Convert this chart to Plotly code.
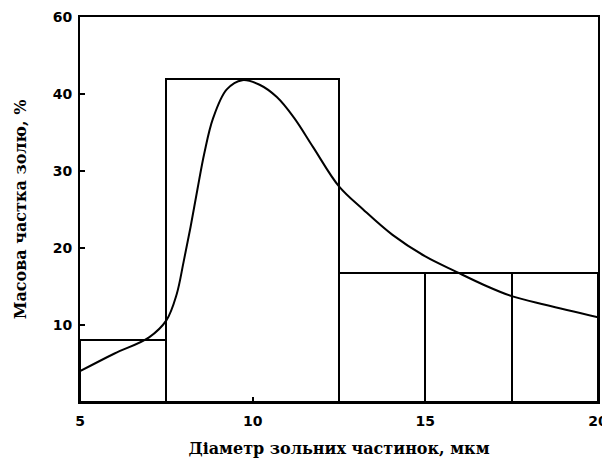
import plotly.graph_objects as go

# Histogram bins (diameter, µm) and mass fraction (%)
bin_left = [5, 7.5, 12.5, 15, 17.5]
bin_right = [7.5, 12.5, 15, 17.5, 20]
bin_mass = [8, 42, 16.7, 16.7, 16.7]

# Smooth distribution curve
curve_x = [5, 6, 7, 7.5, 7.8, 8.0, 8.2, 8.4, 8.6, 8.85, 9.25, 9.7, 10.2, 10.7,
           11.2, 11.75, 12.5, 13.2, 14.05, 15.0, 15.9, 16.7, 17.5, 18.5, 20]
curve_y = [4.0, 6.3, 8.4, 10.6, 14.0, 18.2, 22.7, 27.6, 32.3, 36.8, 40.6, 41.8,
           41.2, 39.6, 36.9, 33.1, 28.0, 25.0, 21.7, 18.9, 16.9, 15.2,
           13.75, 12.6, 11.0]

# Axis ticks
x_tickvals = [5, 10, 15, 20]
x_ticktext = ["5", "10", "15", "20"]
y_tickvals = [10, 20, 30, 40, 50]
y_ticktext = ["10", "20", "30", "40", "60"]

x_title = "Діаметр зольних частинок, мкм"
y_title = "Масова частка золю, %"

centers = [(a + b) / 2 for a, b in zip(bin_left, bin_right)]
widths = [b - a for a, b in zip(bin_left, bin_right)]

fig = go.Figure()
fig.add_trace(go.Bar(
    x=centers, y=bin_mass, width=widths,
    marker=dict(color="white", line=dict(color="black", width=2)),
    showlegend=False, hoverinfo="skip",
))
fig.add_trace(go.Scatter(
    x=curve_x, y=curve_y, mode="lines",
    line=dict(color="black", width=2, shape="spline", smoothing=1.0),
    showlegend=False,
))

tick_font = dict(family="DejaVu Sans", size=14, color="black", weight="bold")
title_font = dict(family="DejaVu Serif", size=16, color="black", weight="bold")

# The page body has an 8px default margin; size keeps the page from overflowing.
fig.update_layout(
    width=602, height=450,
    margin=dict(l=72, r=12, t=9, b=56),
    paper_bgcolor="white", plot_bgcolor="white",
    bargap=0,
    xaxis=dict(
        range=[5, 20], tickvals=x_tickvals, ticktext=x_ticktext,
        ticks="inside", ticklen=5, tickwidth=2, tickcolor="black",
        showline=True, linecolor="black", linewidth=2, mirror=True,
        showgrid=False, zeroline=False, automargin=False,
        tickfont=tick_font, ticklabelstandoff=5, ticklabeloverflow="allow",
        title=dict(text=x_title, font=title_font, standoff=18),
    ),
    yaxis=dict(
        range=[0, 50], tickvals=y_tickvals, ticktext=y_ticktext,
        ticks="inside", ticklen=5, tickwidth=2, tickcolor="black",
        showline=True, linecolor="black", linewidth=2, mirror=True,
        showgrid=False, zeroline=False, automargin=False,
        tickfont=tick_font, ticklabelstandoff=3,
        title=dict(text=y_title, font=title_font, standoff=22),
    ),
)

fig.write_html("out.html")
